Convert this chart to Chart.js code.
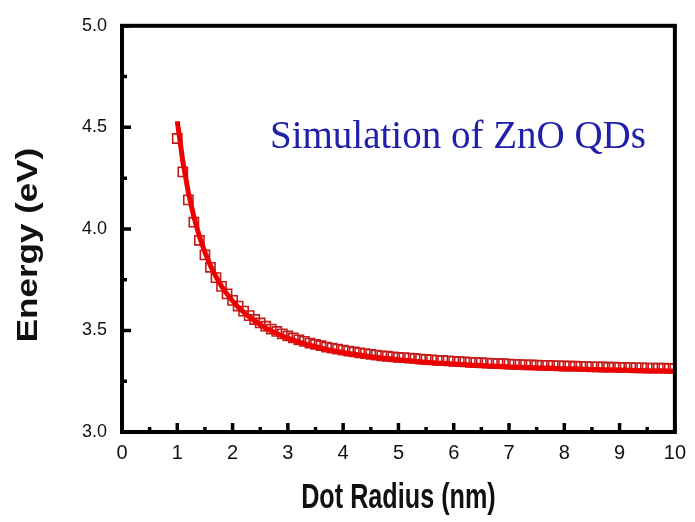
<!DOCTYPE html>
<html>
<head>
<meta charset="utf-8">
<script src="https://cdn.jsdelivr.net/npm/chart.js@4.4.1/dist/chart.umd.min.js"></script>
<style>
  html, body { margin: 0; padding: 0; background: #fff; }
  #wrap { width: 695px; height: 522px; }
</style>
</head>
<body>
<div id="wrap"><canvas id="energyChart" width="695" height="522"></canvas></div>
<script>
// dot radius (nm)
var radius = [
  1.0, 1.1, 1.2, 1.3, 1.4, 1.5, 1.6, 1.7, 1.8, 1.9,
  2.0, 2.1, 2.2, 2.3, 2.4, 2.5, 2.6, 2.7, 2.8, 2.9,
  3.0, 3.1, 3.2, 3.3, 3.4, 3.5, 3.6, 3.7, 3.8, 3.9,
  4.0, 4.1, 4.2, 4.3, 4.4, 4.5, 4.6, 4.7, 4.8, 4.9,
  5.0, 5.1, 5.2, 5.3, 5.4, 5.5, 5.6, 5.7, 5.8, 5.9,
  6.0, 6.1, 6.2, 6.3, 6.4, 6.5, 6.6, 6.7, 6.8, 6.9,
  7.0, 7.1, 7.2, 7.3, 7.4, 7.5, 7.6, 7.7, 7.8, 7.9,
  8.0, 8.1, 8.2, 8.3, 8.4, 8.5, 8.6, 8.7, 8.8, 8.9,
  9.0, 9.1, 9.2, 9.3, 9.4, 9.5, 9.6, 9.7, 9.8, 9.9,
  10.0
];

// solid red curve
var curveEnergy = [
  4.530, 4.332, 4.179, 4.059, 3.963, 3.884, 3.819, 3.765, 3.718, 3.679,
  3.645, 3.615, 3.590, 3.567, 3.547, 3.529, 3.512, 3.498, 3.485, 3.473,
  3.462, 3.452, 3.443, 3.435, 3.427, 3.420, 3.414, 3.407, 3.402, 3.397,
  3.392, 3.387, 3.383, 3.379, 3.375, 3.371, 3.368, 3.364, 3.362, 3.359,
  3.356, 3.353, 3.351, 3.349, 3.346, 3.344, 3.342, 3.340, 3.339, 3.337,
  3.335, 3.333, 3.332, 3.330, 3.329, 3.328, 3.326, 3.325, 3.324, 3.323,
  3.321, 3.320, 3.319, 3.318, 3.317, 3.316, 3.315, 3.315, 3.314, 3.313,
  3.312, 3.311, 3.311, 3.310, 3.309, 3.308, 3.308, 3.307, 3.306, 3.306,
  3.305, 3.305, 3.304, 3.303, 3.303, 3.302, 3.302, 3.301, 3.301, 3.300,
  3.300
];

// open square markers
var squareEnergy = [
  4.445, 4.281, 4.143, 4.033, 3.944, 3.872, 3.811, 3.760, 3.717, 3.680,
  3.648, 3.620, 3.595, 3.573, 3.554, 3.537, 3.521, 3.507, 3.495, 3.483,
  3.473, 3.463, 3.454, 3.446, 3.438, 3.431, 3.425, 3.418, 3.413, 3.408,
  3.403, 3.398, 3.394, 3.390, 3.386, 3.382, 3.379, 3.375, 3.373, 3.370,
  3.367, 3.366, 3.364, 3.362, 3.359, 3.357, 3.355, 3.353, 3.352, 3.350,
  3.348, 3.346, 3.345, 3.343, 3.342, 3.341, 3.339, 3.338, 3.337, 3.336,
  3.334, 3.333, 3.332, 3.331, 3.330, 3.329, 3.328, 3.328, 3.327, 3.326,
  3.325, 3.324, 3.324, 3.323, 3.322, 3.321, 3.321, 3.320, 3.319, 3.319,
  3.318, 3.318, 3.317, 3.316, 3.316, 3.315, 3.315, 3.314, 3.314, 3.313,
  3.313
];

var xMajorTicks = [0, 1, 2, 3, 4, 5, 6, 7, 8, 9, 10];
var xMinorTicks = [0.5, 1.5, 2.5, 3.5, 4.5, 5.5, 6.5, 7.5, 8.5, 9.5];
var yMajorTicks = [3.0, 3.5, 4.0, 4.5, 5.0];
var yMinorTicks = [3.25, 3.75, 4.25, 4.75];
var xTitle = 'Dot Radius (nm)';
var yTitle = 'Energy (eV)';
var annotation = 'Simulation of ZnO QDs';

function toPoints(xs, ys) {
  return xs.map(function(x, i) { return {x: x, y: ys[i]}; });
}

// box frame, inward ticks, axis titles (condensed like the original) and the note
var frameAndTicks = {
  id: 'frameAndTicks',
  afterDatasetsDraw: function(chart) {
    var ctx = chart.ctx, a = chart.chartArea;
    var xs = chart.scales.x, ys = chart.scales.y;
    ctx.save();
    ctx.strokeStyle = '#000';
    ctx.lineWidth = 3.5;
    ctx.lineCap = 'butt';
    ctx.beginPath();
    xMajorTicks.forEach(function(v) {
      var px = xs.getPixelForValue(v);
      ctx.moveTo(px, a.bottom); ctx.lineTo(px, a.bottom - 9);
    });
    xMinorTicks.forEach(function(v) {
      var px = xs.getPixelForValue(v);
      ctx.moveTo(px, a.bottom); ctx.lineTo(px, a.bottom - 5);
    });
    yMajorTicks.forEach(function(v) {
      var py = ys.getPixelForValue(v);
      ctx.moveTo(a.left, py); ctx.lineTo(a.left + 9, py);
    });
    yMinorTicks.forEach(function(v) {
      var py = ys.getPixelForValue(v);
      ctx.moveTo(a.left, py); ctx.lineTo(a.left + 5, py);
    });
    ctx.stroke();
    ctx.lineWidth = 4;
    ctx.strokeRect(a.left, a.top, a.right - a.left, a.bottom - a.top);

    // x title
    ctx.fillStyle = '#111';
    ctx.font = 'bold 35px "Liberation Sans", Arial, sans-serif';
    ctx.textAlign = 'center';
    ctx.textBaseline = 'alphabetic';
    ctx.save();
    ctx.translate((a.left + a.right) / 2, 508);
    ctx.scale(0.72, 1);
    ctx.fillText(xTitle, 0, 0);
    ctx.restore();

    // y title
    ctx.save();
    ctx.translate(37, 245);
    ctx.rotate(-Math.PI / 2);
    ctx.scale(1, 0.85);
    ctx.fillText(yTitle, 0, 0);
    ctx.restore();

    ctx.fillStyle = '#2020a8';
    ctx.font = '39px "Liberation Serif", "Times New Roman", serif';
    ctx.textAlign = 'left';
    ctx.fillText(annotation, 270, 148);
    ctx.restore();
  }
};

var ctx = document.getElementById('energyChart').getContext('2d');
var chart = new Chart(ctx, {
  type: 'scatter',
  data: {
    datasets: [{
      label: 'Curve',
      data: toPoints(radius, curveEnergy),
      showLine: true,
      borderColor: '#ee0000',
      borderWidth: 5,
      pointRadius: 0,
      tension: 0
    }, {
      label: 'Simulation',
      data: toPoints(radius, squareEnergy),
      showLine: false,
      pointStyle: 'rect',
      pointRadius: 6.5,
      pointBorderWidth: 1.6,
      pointBorderColor: '#c41a1a',
      pointBackgroundColor: 'rgba(255,255,255,0)'
    }]
  },
  options: {
    responsive: false,
    animation: false,
    layout: { padding: { top: 23, right: 12, left: 0, bottom: 0 } },
    plugins: {
      legend: { display: false },
      tooltip: { enabled: false }
    },
    scales: {
      x: {
        type: 'linear',
        min: 0,
        max: 10,
        afterFit: function(scale) { scale.height = 90; },
        afterBuildTicks: function(scale) {
          scale.ticks = xMajorTicks.map(function(v) { return {value: v}; });
        },
        grid: { display: false, drawTicks: false },
        border: { display: false },
        ticks: {
          padding: 9,
          color: '#111',
          font: { family: '"Liberation Sans", Arial', size: 20 },
          maxRotation: 0,
          callback: function(v) { return String(v); }
        },
        title: { display: false }
      },
      y: {
        type: 'linear',
        min: 3,
        max: 5,
        afterFit: function(scale) { scale.width = 122; },
        afterBuildTicks: function(scale) {
          scale.ticks = yMajorTicks.map(function(v) { return {value: v}; });
        },
        grid: { display: false, drawTicks: false },
        border: { display: false },
        ticks: {
          padding: 15,
          color: '#111',
          font: { family: '"Liberation Sans", Arial', size: 18 },
          callback: function(v) { return Number(v).toFixed(1); }
        },
        title: { display: false }
      }
    }
  },
  plugins: [frameAndTicks]
});
</script>
</body>
</html>
